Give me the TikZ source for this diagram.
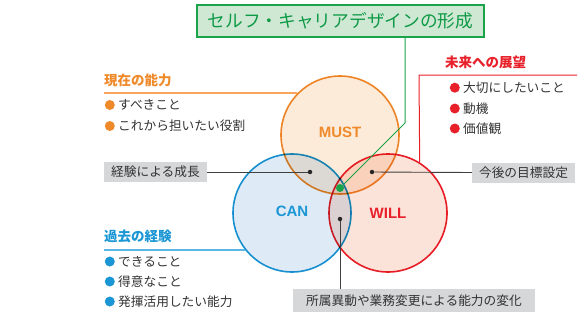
\documentclass[tikz,border=0pt]{standalone}
\usepackage{fontspec}
\usepackage{tikz}
\usetikzlibrary{positioning,calc}
\setmainfont{Noto Sans CJK JP}
\newfontfamily\latinsans{Liberation Sans}
\definecolor{mustorange}{HTML}{EF8A2A}
\definecolor{mustline}{HTML}{F8A55B}
\definecolor{mustfill}{HTML}{FDEBDA}
\definecolor{canblue}{HTML}{1A96D4}
\definecolor{canline}{HTML}{5BB5E5}
\definecolor{canfill}{HTML}{DEEBF7}
\definecolor{willred}{HTML}{E8202A}
\definecolor{willfill}{HTML}{FCE3DA}
\definecolor{titlegreen}{HTML}{1AA44A}
\definecolor{titletext}{HTML}{0E9A45}
\definecolor{titlefill}{HTML}{CFE8D4}
\definecolor{tagfill}{HTML}{D6D7D9}
\definecolor{textgray}{HTML}{333333}

\begin{document}
\begin{tikzpicture}[
    x=1pt, y=-1pt,
    ring/.style={circle, line width=1.6pt, minimum size=118pt, inner sep=0pt},
    ringlabel/.style={font=\latinsans\fontsize{15}{16}\selectfont\bfseries},
    head/.style={anchor=west, inner sep=0pt, font=\fontsize{13.5}{15}\selectfont\bfseries},
    item/.style={anchor=west, inner sep=0pt, text=textgray, font=\fontsize{12.7}{14}\selectfont},
    bul/.style={label={[circle, fill=#1, minimum size=10pt, inner sep=0pt, label distance=3pt]left:{}}},
    tag/.style={fill=tagfill, text=textgray, inner xsep=7pt, inner ysep=0pt, minimum height=20pt, font=\fontsize{12.7}{14}\selectfont},
    spot/.style={circle, fill=black!85, minimum size=4.5pt, inner sep=0pt},
    link/.style={line width=0.9pt, draw=black!75}
]
\useasboundingbox (0,0) rectangle (583,324);

% three circles
\begin{scope}[blend mode=multiply]
\node[ring, draw=mustorange, fill=mustfill] (must) at (340,135) {};
\node[ring, draw=canblue, fill=canfill] (can) at (292,213) {};
\node[ring, draw=willred, fill=willfill] (will) at (388,213) {};
\end{scope}
\node[ringlabel, text=mustorange] at (340,132) {MUST};
\node[ringlabel, text=canblue] at (292,211) {CAN};
\node[ringlabel, text=willred] at (388,213) {WILL};

% title
\node[draw=titlegreen, fill=titlefill, line width=1.3pt, minimum width=287pt, minimum height=32pt,
      text=titletext, font=\fontsize{17.7}{19}\selectfont] (title) at (340.5,21) {セルフ・キャリアデザインの形成};
\node[circle, fill=titlegreen, minimum size=8pt, inner sep=0pt] (core) at (340,188) {};
\coordinate (bend) at (405,123);
\draw[titlegreen, line width=1pt] (title.south -| bend) -- (bend) -- (core);

% MUST side
\node[head, text=mustorange] (mustHead) at (104,80.7) {現在の能力};
\draw[mustline, line width=2pt] (must.136 -| mustHead.west) -- (must.136);
\node[item, bul=mustorange] (must1) at (118,105) {すべきこと};
\node[item, bul=mustorange] (must2) at (118,126) {これから担いたい役割};

% WILL side
\node[head, text=willred] (willHead) at (445,62.7) {未来への展望};
\coordinate (redcorner) at (419,75);
\coordinate (redend) at (577,75);
\draw[willred, line width=1pt] (will.58) -- (redcorner) -- (redend);
\node[item, bul=willred] (will1) at (463,87.7) {大切にしたいこと};
\node[item, bul=willred] (will2) at (463,108.5) {動機};
\node[item, bul=willred] (will3) at (463,128.5) {価値観};

% CAN side
\node[head, text=canblue] (canHead) at (104,236.7) {過去の経験};
\draw[canline, line width=2pt] (can.218 -| canHead.west) -- (can.218);
\node[item, bul=canblue] (can1) at (118,261.5) {できること};
\node[item, bul=canblue] (can2) at (118,281.5) {得意なこと};
\node[item, bul=canblue] (can3) at (118,301.5) {発揮活用したい能力};

% overlaps
\node[spot] (mc) at (310,172) {};
\node[spot] (mw) at (372,172) {};
\node[spot] (cw) at (340,219) {};
\node[tag] (growth) at (155.5,172) {経験による成長};
\node[tag] (goal) at (523.5,172.5) {今後の目標設定};
\node[tag, minimum width=242pt, minimum height=23pt] (shift) at (414,300.5) {所属異動や業務変更による能力の変化};
\draw[link] (growth.east) -- (mc);
\draw[link] (goal.west) -- (mw);
\draw[link] (cw) -- (cw |- shift.north);
\end{tikzpicture}
\end{document}
